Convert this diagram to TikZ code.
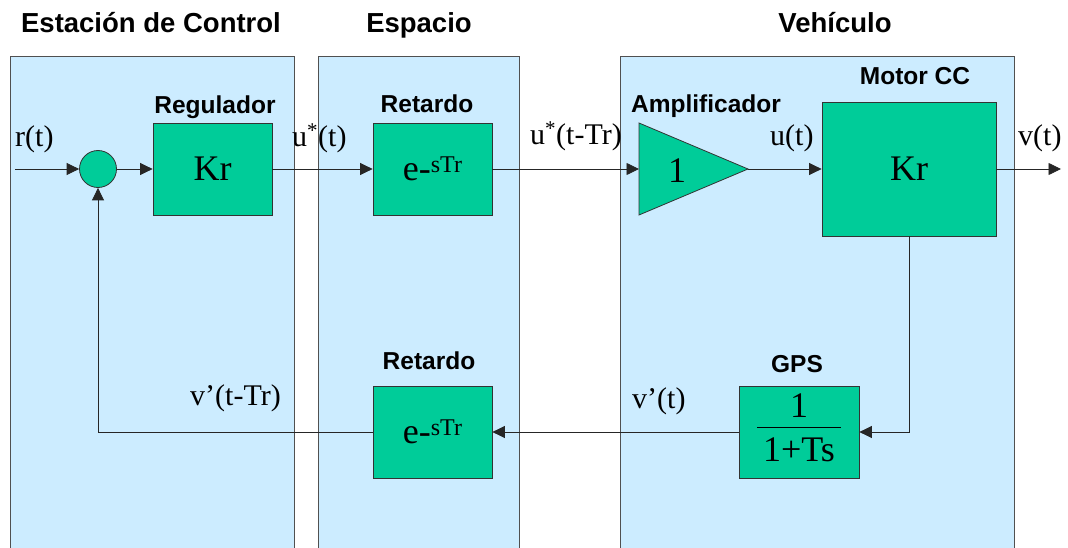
\documentclass[tikz,border=0pt]{standalone}
\usepackage{fontspec}
\setmainfont{Liberation Serif}
\newfontfamily\arialfont{Liberation Sans}
\usetikzlibrary{arrows.meta}
\definecolor{panelblue}{RGB}{204,236,255}
\definecolor{blockgreen}{RGB}{0,204,153}
\definecolor{edgegray}{RGB}{80,80,80}
\begin{document}
\begin{tikzpicture}[x=1pt,y=-1pt,
  panel/.style={fill=panelblue},
  paneledge/.style={draw=edgegray,line width=0.9pt},
  blk/.style={draw=black!80,fill=blockgreen,line width=0.8pt,inner sep=0pt,
    font=\fontsize{36}{40}\selectfont},
  ttl/.style={font=\arialfont\bfseries\fontsize{27.5}{32}\selectfont,anchor=base},
  lbl/.style={font=\arialfont\bfseries\fontsize{24.5}{28}\selectfont,anchor=base},
  sig/.style={font=\fontsize{30}{34}\selectfont,anchor=base west,inner sep=0pt},
  wire/.style={line width=0.8pt,draw=black!85},
  arr/.style={wire,-{Triangle[length=12.5pt,width=12pt]}}
]
\useasboundingbox (0,0) rectangle (1068,548);
% panels
\fill[panel] (10,56) rectangle (294,548);
\fill[panel] (318,56) rectangle (519,548);
\fill[panel] (620,56) rectangle (1014,548);
\draw[paneledge] (10,548) -- (10,56) -- (294,56) -- (294,548);
\draw[paneledge] (318,548) -- (318,56) -- (519,56) -- (519,548);
\draw[paneledge] (620,548) -- (620,56) -- (1014,56) -- (1014,548);
% titles
\node[ttl] (t1) at (151,33) {Estación de Control};
\node[ttl] (t2) at (419,33) {Espacio};
\node[ttl] (t3) at (835,33) {Vehículo};
% block labels
\node[lbl] (lreg) at (215,114) {Regulador};
\node[lbl] (lret1) at (427,113) {Retardo};
\node[lbl] (lamp) at (706,113) {Amplificador};
\node[lbl] (lmot) at (915,85) {Motor CC};
\node[lbl] (lret2) at (429,369) {Retardo};
\node[lbl] (lgps) at (797,372) {GPS};
% blocks
\node[draw=black!80,fill=blockgreen,line width=0.8pt,circle,minimum size=37pt,inner sep=0pt] (sum) at (98,169) {};
\node[blk,minimum width=119pt,minimum height=92pt] (reg) at (212.5,169) {Kr};
\node[blk,minimum width=119pt,minimum height=92pt] (ret1) at (432.5,169) {e-\raisebox{0.5ex}{\fontsize{24}{28}\selectfont sTr}};
\draw[draw=black!80,fill=blockgreen,line width=0.8pt] (639,123) -- (748,169) -- (639,215) -- cycle;
\coordinate (ampin) at (639,169);
\coordinate (ampout) at (748,169);
\node[font=\fontsize{36}{40}\selectfont] (amp) at (677,171) {1};
\node[blk,minimum width=174pt,minimum height=134pt] (mot) at (909,169) {Kr};
\node[blk,minimum width=120pt,minimum height=92pt] (gps) at (799,432) {\setlength{\tabcolsep}{6pt}\renewcommand{\arraystretch}{0.95}\begin{tabular}{c}1\\[-2pt]\hline\rule{0pt}{34pt}1+Ts\end{tabular}};
\node[blk,minimum width=119pt,minimum height=92pt] (ret2) at (432.5,432) {e-\raisebox{0.5ex}{\fontsize{24}{28}\selectfont sTr}};
% signal labels
\node[sig] (sr) at (15,147) {r(t)};
\node[sig] (su1) at (292,147) {u\textsuperscript{*}(t)};
\node[sig] (su2) at (530,145) {u\textsuperscript{*}(t-Tr)};
\node[sig] (su3) at (770,146) {u(t)};
\node[sig] (sv) at (1018,146) {v(t)};
\node[sig] (sv2) at (190,405) {v’(t-Tr)};
\node[sig] (sv3) at (632,408) {v’(t)};
% connectors
\coordinate (in) at (15,169);
\coordinate (out) at (1061,169);
\coordinate (fb1) at (909,432);
\coordinate (fb2) at (98,432);
\draw[arr] (in) -- (sum.west);
\draw[arr] (sum.east) -- (reg.west);
\draw[arr] (reg.east) -- (ret1.west);
\draw[arr] (ret1.east) -- (ampin);
\draw[arr] (ampout) -- (mot.west);
\draw[arr] (mot.east) -- (out);
\draw[arr] (mot.south) -- (fb1) -- (gps.east);
\draw[arr] (gps.west) -- (ret2.east);
\draw[arr] (ret2.west) -- (fb2) -- (sum.south);
\end{tikzpicture}
\end{document}
